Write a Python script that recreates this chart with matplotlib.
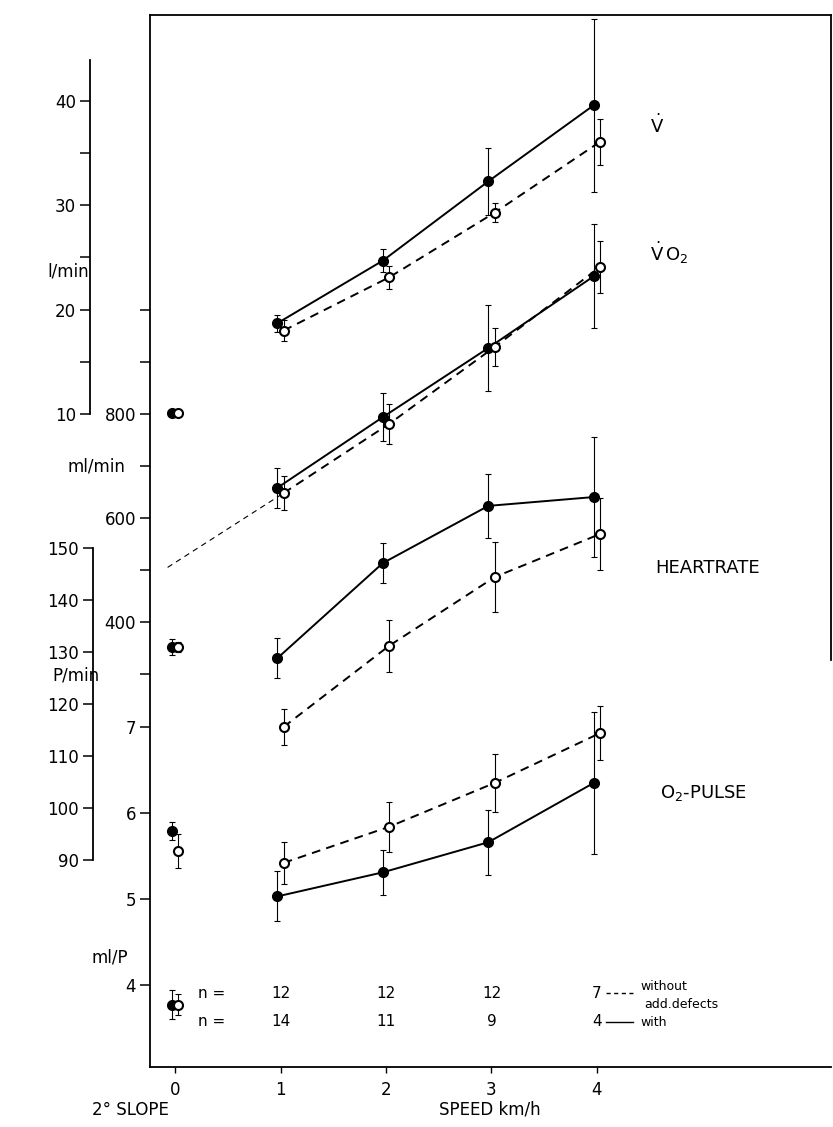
import matplotlib
matplotlib.use("Agg")
import matplotlib.pyplot as plt
import matplotlib.transforms as mtransforms
import numpy as np

# ---- data ----
speed = np.array([1, 2, 3, 4])

# ventilation, l/min
v_with = [18.7, 24.7, 32.3, 39.6]
v_with_err = [0.8, 1.1, 3.2, 8.3]
v_without = [18.0, 23.1, 29.3, 36.1]
v_without_err = [1.0, 1.1, 0.9, 2.2]

# oxygen uptake, ml/min
vo2_with = [658, 794, 927, 1065]
vo2_with_err = [38, 46, 82, 100]
vo2_without = [648, 781, 929, 1083]
vo2_without_err = [33, 38, 37, 50]

# heart rate, P/min
hr_with = [128.8, 147.1, 158.1, 159.8]
hr_with_err = [3.8, 3.8, 6.2, 11.5]
hr_without = [115.6, 131.2, 144.4, 152.7]
hr_without_err = [3.5, 5.0, 6.7, 6.9]

# O2 pulse, ml/P
o2p_with = [5.03, 5.31, 5.66, 6.35]
o2p_with_err = [0.29, 0.26, 0.38, 0.83]
o2p_without = [5.42, 5.84, 6.35, 6.93]
o2p_without_err = [0.24, 0.29, 0.34, 0.31]

# 2 deg slope (speed 0): [with, without]
slope_v = [10.1, 10.1]
slope_vo2 = [352, 352]
slope_vo2_err = [15, 10]
slope_hr = [95.6, 91.7]
slope_hr_err = [1.7, 3.3]
slope_o2p = [3.77, 3.77]
slope_o2p_err = [0.17, 0.12]

# dashed extrapolation of VO2 (without) towards speed 0
extrap_speed = [-0.07, 1.03]
extrap_vo2 = [505, 648]

n_without = [12, 12, 12, 7]
n_with = [14, 11, 9, 4]

# ---- layout (pixels of the 833x1127 picture) ----
W, H = 833, 1127
LEFT_PX, RIGHT_PX, TOP_PX, BOT_PX = 150, 831, 15, 1067
X0_PX, X_UNIT = 175, 105.5


def lims(v_a, y_a, v_b, y_b):
    k = (v_b - v_a) / (y_b - y_a)
    return v_a + (BOT_PX - y_a) * k, v_a + (TOP_PX - y_a) * k


plt.rcParams['font.family'] = 'DejaVu Sans'
plt.rcParams['mathtext.fontset'] = 'dejavusans'

fig = plt.figure(figsize=(W / 100, H / 100), dpi=100)
rect = [LEFT_PX / W, 1 - BOT_PX / H, (RIGHT_PX - LEFT_PX) / W, (BOT_PX - TOP_PX) / H]

ax = fig.add_axes(rect)      # frame, speed axis and ml/min scale
ax_v = fig.add_axes(rect)
ax_hr = fig.add_axes(rect)
ax_o2 = fig.add_axes(rect)

xlim = ((LEFT_PX - X0_PX) / X_UNIT, (RIGHT_PX - X0_PX) / X_UNIT)
for a in (ax, ax_v, ax_hr, ax_o2):
    a.set_xlim(*xlim)
for a in (ax_v, ax_hr, ax_o2):
    a.patch.set_visible(False)
    for s in a.spines.values():
        s.set_visible(False)
    a.tick_params(axis='x', bottom=False, labelbottom=False)

ax.set_ylim(*lims(800, 414, 400, 622))
ax_v.set_ylim(*lims(10, 414, 40, 101))
ax_hr.set_ylim(*lims(150, 548, 90, 860))
ax_o2.set_ylim(*lims(7, 727, 4, 985))

tick_kw = dict(direction='out', length=7, width=1.1, labelsize=12, pad=3)

# main frame
for s in ax.spines.values():
    s.set_linewidth(1.3)
ax.spines['right'].set_bounds(327, ax.get_ylim()[1])
ax.set_xticks([0, 1, 2, 3, 4])
ax.tick_params(axis='x', direction='out', length=4, width=1.0, labelsize=12, pad=6)
ax.set_yticks([400, 600, 800])
ax.set_yticks([300, 500, 700, 900, 1000], minor=True)
ax.tick_params(axis='y', which='both', **tick_kw)

# l/min axis on the outside
ax_v.spines['left'].set_visible(True)
ax_v.spines['left'].set_linewidth(1.3)
ax_v.spines['left'].set_position(('axes', (90 - LEFT_PX) / (RIGHT_PX - LEFT_PX)))
ax_v.spines['left'].set_bounds(10, 43.9)
ax_v.set_yticks([10, 20, 30, 40])
ax_v.set_yticks([15, 25, 35], minor=True)
ax_v.tick_params(axis='y', which='both', **tick_kw)

# P/min axis on the outside
ax_hr.spines['left'].set_visible(True)
ax_hr.spines['left'].set_linewidth(1.3)
ax_hr.spines['left'].set_position(('axes', (93 - LEFT_PX) / (RIGHT_PX - LEFT_PX)))
ax_hr.spines['left'].set_bounds(90, 150)
ax_hr.set_yticks([90, 100, 110, 120, 130, 140, 150])
ax_hr.tick_params(axis='y', **tick_kw)

# ml/P ticks on the frame
ax_o2.set_yticks([4, 5, 6, 7])
ax_o2.tick_params(axis='y', **tick_kw)

DASH = (0, (4.5, 3.2))
OFF = 0.03


def plot_pair(a, yw, ew, yo, eo, x=speed, lines=True):
    xw = np.asarray(x) - OFF
    xo = np.asarray(x) + OFF
    a.errorbar(xw, yw, yerr=ew, fmt='none', ecolor='black', elinewidth=0.8,
               capsize=2.5, capthick=0.8, zorder=2)
    a.errorbar(xo, yo, yerr=eo, fmt='none', ecolor='black', elinewidth=0.8,
               capsize=2.5, capthick=0.8, zorder=2)
    if lines:
        a.plot(xw, yw, color='black', lw=1.4, zorder=3)
        a.plot(xo, yo, color='black', lw=1.4, ls=DASH, zorder=3)
    a.plot(xw, yw, 'o', ms=7, mfc='black', mec='black', zorder=4)
    a.plot(xo, yo, 'o', ms=6.5, mfc='white', mec='black', mew=1.5, zorder=5)


plot_pair(ax_v, v_with, v_with_err, v_without, v_without_err)
plot_pair(ax, vo2_with, vo2_with_err, vo2_without, vo2_without_err)
plot_pair(ax_hr, hr_with, hr_with_err, hr_without, hr_without_err)
plot_pair(ax_o2, o2p_with, o2p_with_err, o2p_without, o2p_without_err)

# 2 deg slope points at speed 0
plot_pair(ax_v, [slope_v[0]], [0], [slope_v[1]], [0], x=[0], lines=False)
plot_pair(ax, [slope_vo2[0]], [slope_vo2_err[0]], [slope_vo2[1]], [slope_vo2_err[1]], x=[0], lines=False)
plot_pair(ax_hr, [slope_hr[0]], [slope_hr_err[0]], [slope_hr[1]], [slope_hr_err[1]], x=[0], lines=False)
plot_pair(ax_o2, [slope_o2p[0]], [slope_o2p_err[0]], [slope_o2p[1]], [slope_o2p_err[1]], x=[0], lines=False)

ax.plot(extrap_speed, extrap_vo2, color='black', lw=0.8, ls=(0, (5, 4)), zorder=2)

# curve names
lab = dict(fontsize=13, ha='left', va='center')
ax_v.text(4.5, 37.7, r'$\dot{\mathrm{V}}$', **lab)
ax.text(4.5, 1110, r'$\dot{\mathrm{V}}\,\mathrm{O}_2$', **lab)
ax_hr.text(4.55, 146.2, 'HEARTRATE', **lab)
ax_o2.text(4.6, 6.23, r'O$_2$-PULSE', **lab)

# unit labels left of the scales
fig.text(68 / W, 1 - 271 / H, 'l/min', fontsize=12, ha='center', va='center')
fig.text(96 / W, 1 - 466 / H, 'ml/min', fontsize=12, ha='center', va='center')
fig.text(76 / W, 1 - 676 / H, 'P/min', fontsize=12, ha='center', va='center')
fig.text(110 / W, 1 - 958 / H, 'ml/P', fontsize=12, ha='center', va='center')

# n per group and line key
tr = mtransforms.blended_transform_factory(ax.transData, ax.transAxes)
row1 = (BOT_PX - 993) / (BOT_PX - TOP_PX)
row2 = (BOT_PX - 1022) / (BOT_PX - TOP_PX)
ax.text(0.35, row1, 'n =', transform=tr, fontsize=11, ha='center', va='center')
ax.text(0.35, row2, 'n =', transform=tr, fontsize=11, ha='center', va='center')
for xi, a_n, b_n in zip(speed, n_without, n_with):
    ax.text(xi, row1, str(a_n), transform=tr, fontsize=11, ha='center', va='center')
    ax.text(xi, row2, str(b_n), transform=tr, fontsize=11, ha='center', va='center')
ax.plot([4.09, 4.34], [row1, row1], transform=tr, color='black', lw=1.0, ls=(0, (3, 2.5)))
ax.plot([4.09, 4.34], [row2, row2], transform=tr, color='black', lw=1.0)
ax.text(4.41, (BOT_PX - 987) / (BOT_PX - TOP_PX), 'without', transform=tr, fontsize=9, ha='left', va='center')
ax.text(4.45, (BOT_PX - 1005) / (BOT_PX - TOP_PX), 'add.defects', transform=tr, fontsize=9, ha='left', va='center')
ax.text(4.41, row2, 'with', transform=tr, fontsize=9, ha='left', va='center')

fig.text(130 / W, 1 - 1110 / H, '2° SLOPE', fontsize=12, ha='center', va='center')
fig.text(490 / W, 1 - 1110 / H, 'SPEED km/h', fontsize=12, ha='center', va='center')

fig.savefig('out.png', dpi=100)
